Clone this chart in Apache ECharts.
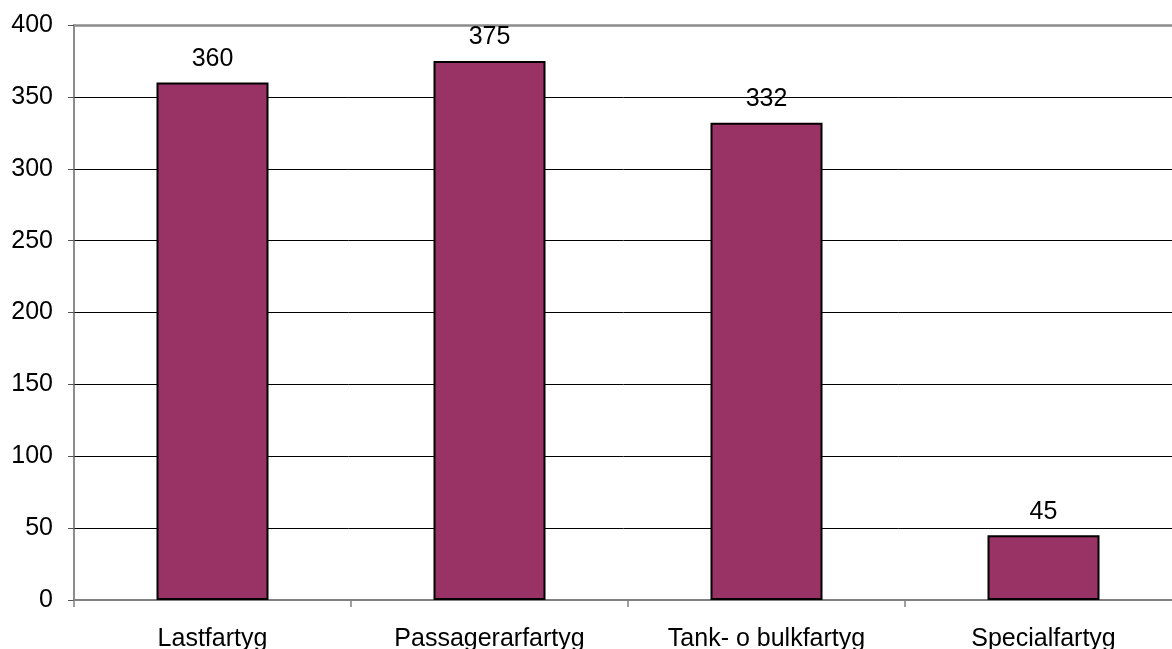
<!DOCTYPE html>
<html><head><meta charset="utf-8">
<script src="https://cdn.jsdelivr.net/npm/echarts@6/dist/echarts.min.js"></script>
<style>html,body{margin:0;padding:0;background:#fff}#c{width:1172px;height:649px}</style>
</head><body><div id="c"></div>
<script>
const categories = ['Lastfartyg', 'Passagerarfartyg', 'Tank- o bulkfartyg', 'Specialfartyg'];
const values = [360, 375, 332, 45];
const yTicks = { min: 0, max: 400, interval: 50 };

const chart = echarts.init(document.getElementById('c'), null, { renderer: 'canvas' });
const font = 'Liberation Sans, Arial, sans-serif';
chart.setOption({
  animation: false,
  backgroundColor: '#fff',
  grid: { left: 74, width: 1108, top: 25, bottom: 49, containLabel: false, outerBoundsMode: 'none' },
  xAxis: [{
    type: 'category', data: categories, position: 'bottom',
    axisLine: { lineStyle: { color: '#808080', width: 2 } },
    axisTick: { show: true, length: 7, alignWithLabel: false, lineStyle: { color: '#808080', width: 1.5 } },
    axisLabel: { color: '#000', fontSize: 25, fontFamily: font, margin: 27 },
    splitLine: { show: false }
  }, {
    type: 'category', data: categories, position: 'top',
    axisLine: { show: true, lineStyle: { color: '#8c8c8c', width: 2.5 } },
    axisTick: { show: false }, axisLabel: { show: false }
  }],
  yAxis: {
    type: 'value', min: yTicks.min, max: yTicks.max, interval: yTicks.interval,
    axisLine: { show: true, lineStyle: { color: '#666', width: 1.5 } },
    axisTick: { show: true, length: 6, lineStyle: { color: '#555' } },
    axisLabel: { color: '#000', fontSize: 25, fontFamily: font, margin: 21 },
    splitLine: { show: true, lineStyle: { color: '#000', width: 1 } }
  },
  series: [{
    type: 'bar', data: values, xAxisIndex: 0, barWidth: 112,
    itemStyle: { color: '#993366', borderColor: '#000', borderWidth: 2 },
    label: { show: true, position: 'top', distance: 11, color: '#000', fontSize: 25, fontFamily: font }
  }]
});
</script></body></html>
